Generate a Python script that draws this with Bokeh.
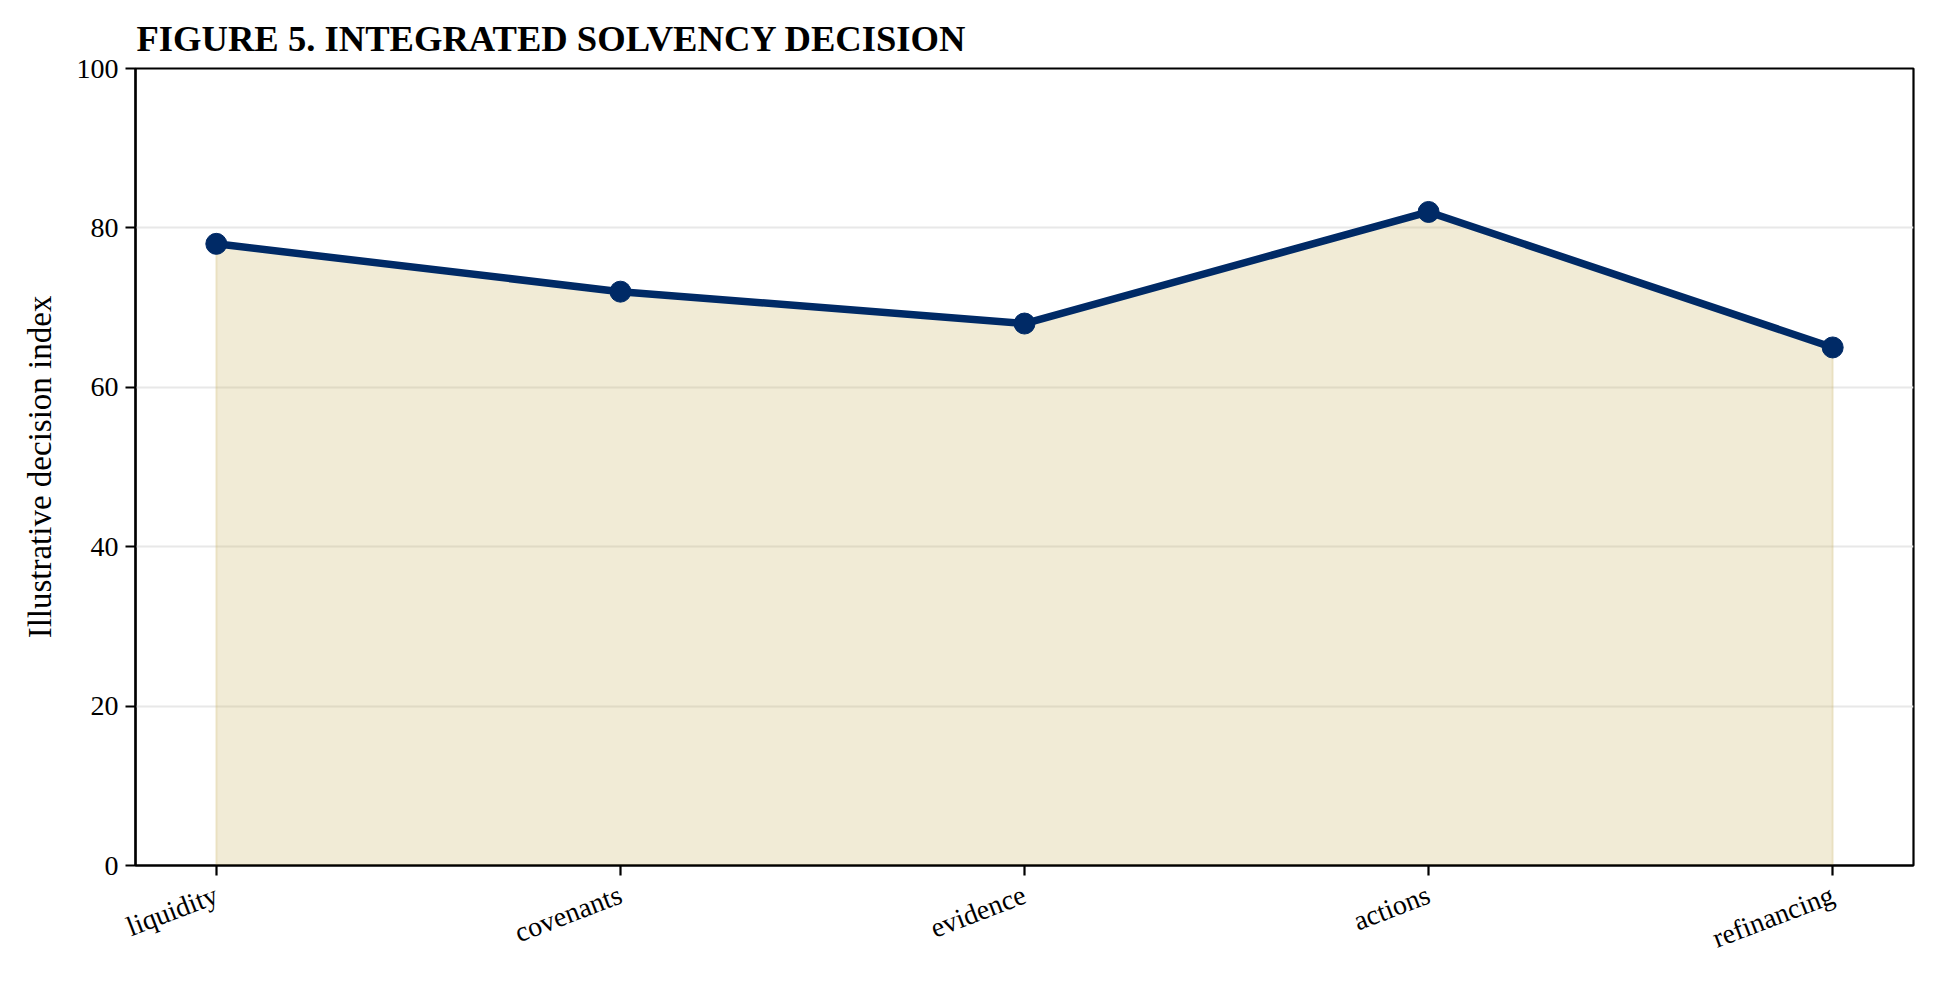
import math
from bokeh.plotting import figure
from bokeh.models import FixedTicker, Range1d
from bokeh.embed import file_html
from bokeh.resources import INLINE

categories = ["liquidity", "covenants", "evidence", "actions", "refinancing"]
values = [78, 72, 68, 82, 65]
y_ticks = [0, 20, 40, 60, 80, 100]

title_text = "FIGURE 5. INTEGRATED SOLVENCY DECISION"
y_label = "Illustrative decision index"

NAVY = "#002a66"
FILL = "#c7af5b"
FONT = "Liberation Serif"

xs = list(range(len(categories)))

p = figure(
    output_backend="svg",
    toolbar_location=None,
    frame_width=1778,
    frame_height=797,
    min_border_left=135,
    min_border_top=68,
    min_border_right=10,
    min_border_bottom=100,
    x_range=Range1d(-0.2, len(categories) - 0.8),
    y_range=Range1d(0, 100),
    title=title_text,
)

p.background_fill_color = "white"
p.border_fill_color = "white"
p.outline_line_color = "black"
p.outline_line_width = 2.2

p.title.text_font = FONT
p.title.text_font_style = "bold"
p.title.text_font_size = "36.6px"
p.title.text_color = "black"
p.title.align = "left"
p.title.standoff = 20
p.title.offset = 1

# area fill below line
poly_x = xs + xs[::-1]
poly_y = values + [0] * len(values)
p.patch(poly_x, poly_y, fill_color=FILL, fill_alpha=0.25,
        line_color=FILL, line_alpha=0.25, line_width=2)

p.line(xs, values, line_color=NAVY, line_width=7.5)
p.scatter(xs, values, size=21, fill_color=NAVY, line_color=NAVY)

# axes
p.xaxis.ticker = FixedTicker(ticks=xs)
p.xaxis.major_label_overrides = {i: c for i, c in enumerate(categories)}
p.xaxis.major_label_orientation = math.radians(21)
p.yaxis.ticker = FixedTicker(ticks=y_ticks)

for ax in (p.xaxis, p.yaxis):
    ax.axis_line_color = "black"
    ax.axis_line_width = 2.2
    ax.major_tick_line_color = "black"
    ax.major_tick_line_width = 2.2
    ax.major_tick_out = 10
    ax.major_tick_in = 0
    ax.minor_tick_line_color = None
    ax.major_label_text_font = FONT
    ax.major_label_text_font_size = "28px"
    ax.major_label_text_color = "black"

p.xaxis.major_label_standoff = 18
p.yaxis.major_label_standoff = 7

p.yaxis.axis_label = y_label
p.yaxis.axis_label_text_font = FONT
p.yaxis.axis_label_text_font_size = "33px"
p.yaxis.axis_label_text_font_style = "normal"
p.yaxis.axis_label_text_color = "black"
p.yaxis.axis_label_standoff = 16

p.xgrid.grid_line_color = None
p.ygrid.grid_line_color = "#e8e8e8"
p.ygrid.grid_line_width = 2

open("out.html", "w").write(file_html(p, INLINE))
